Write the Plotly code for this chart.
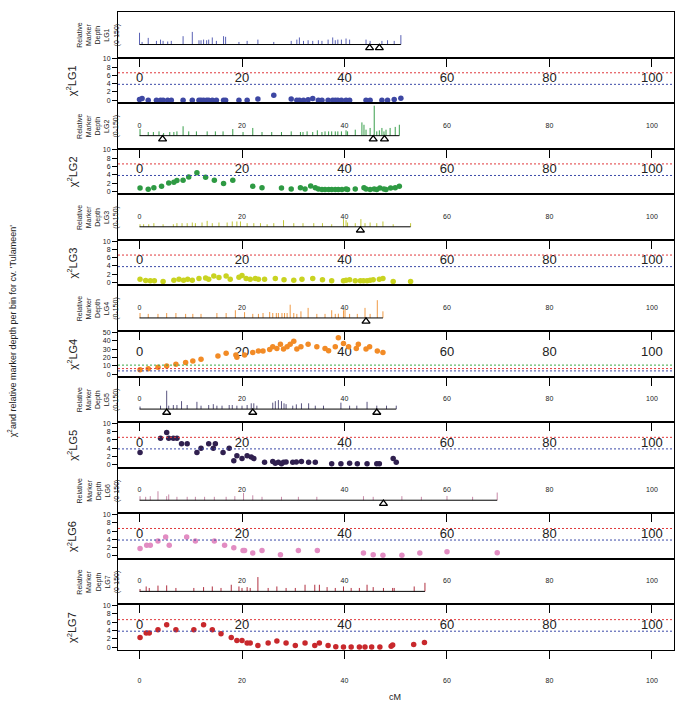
import plotly.graph_objects as go

# ---------------- data ----------------
lg_names = ["LG1", "LG2", "LG3", "LG4", "LG5", "LG6", "LG7"]
lg_length = [51.0, 50.7, 52.9, 47.5, 50.1, 69.8, 55.7]

lg1_bin_cm = [0, 0.5, 1.7, 3.3, 4.1, 4.6, 5.5, 6.2, 8.5, 10.3, 11.6, 12.0, 12.5, 13.1, 13.5, 14.2, 15.0, 16.4, 16.8,
              19.4, 21.0, 23.1, 26.2, 29.6, 30.7, 31.2, 32.0, 32.9, 33.8, 34.9, 35.6, 36.8, 37.7, 38.2, 38.7, 39.4,
              40.3, 41.0, 44.2, 45.0, 47.3, 48.4, 49.7, 51.0]
lg1_depth = [55, 12, 31, 17, 23, 17, 14, 17, 39, 59, 20, 20, 23, 20, 23, 33, 17, 39, 36, 12, 17, 23, 12, 17, 23, 33,
             17, 20, 17, 20, 17, 23, 33, 20, 23, 23, 28, 23, 23, 17, 17, 20, 17, 44]
lg1_tri_cm = [44.9, 46.8]
lg1_chi_cm = lg1_bin_cm
lg1_chi = [0.2, 0.4, 0, 0, 0, 0, 0, 0, 0, 0, 0, 0, 0, 0, 0, 0, 0, 0, 0, 0, 0, 0.3, 1.2, 0.3, 0, 0, 0, 0.1, 0.4,
           0, 0, 0, 0, 0, 0, 0, 0, 0, 0, 0, 0, 0, 0.2, 0.5]

lg2_bin_cm = [0.1, 1.7, 2.7, 3.8, 4.7, 5.9, 6.7, 7.3, 8.5, 9.6, 11.1, 13.2, 14.8, 16.3, 18.2, 20.2, 22.1, 23.9, 25.8,
              27.7, 29.6, 31.4, 31.9, 32.7, 33.8, 34.7, 35.6, 36.2, 36.9, 37.5, 38.2, 38.7, 39.4, 40.3, 40.6, 42.1,
              43.4, 43.8, 44.2, 45.0, 45.8, 46.3, 46.8, 47.3, 47.7, 48.1, 48.9, 49.9, 50.7]
lg2_depth = [31, 17, 17, 20, 12, 17, 17, 20, 44, 20, 20, 20, 20, 20, 31, 17, 36, 17, 17, 17, 20, 17, 17, 20, 17, 25,
             17, 20, 20, 20, 20, 20, 20, 25, 20, 28, 62, 51, 28, 36, 140, 20, 25, 36, 20, 28, 36, 41, 51]
lg2_tri_cm = [4.5, 45.6, 47.8]
lg2_chi_cm = [0.1, 1.7, 2.8, 4.3, 5.7, 6.7, 7.3, 8.5, 9.6, 11.2, 12.9, 14.6, 16.4, 18.2, 22.1, 23.9, 27.7, 29.6,
              31.4, 32.3, 33.4, 34.3, 34.9, 35.6, 36.2, 36.9, 37.5, 38.2, 38.8, 39.5, 40.3, 40.6, 42.1, 43.8, 44.2,
              45.0, 45.8, 46.3, 46.9, 47.7, 48.1, 49.0, 49.9, 50.7]
lg2_chi = [0.8, 0.5, 0.9, 1.25, 2.0, 2.2, 2.6, 2.7, 3.5, 4.5, 3.4, 2.7, 1.9, 2.7, 1.25, 0.9, 0.8, 0.55, 0.9, 0.6,
           1.3, 0.9, 0.6, 0.45, 0.45, 0.45, 0.45, 0.45, 0.45, 0.45, 0.6, 0.45, 0.55, 0.9, 0.6, 0.45, 0.6, 0.45, 0.8,
           0.6, 0.45, 0.8, 0.9, 1.25]

lg3_bin_cm = [0.1, 0.8, 1.8, 2.8, 4.6, 6.6, 7.3, 8.3, 9.3, 10.3, 10.9, 12.2, 13.2, 14.2, 15.5, 17.1, 18.1, 19.0,
              19.7, 21.0, 22.3, 23.6, 24.9, 26.2, 28.1, 30.1, 31.9, 34.0, 35.7, 37.5, 39.8, 40.3, 40.6, 42.1, 43.2,
              44.0, 45.0, 46.3, 47.5, 49.5, 52.9]
lg3_depth = [12, 12, 12, 17, 12, 12, 17, 17, 17, 20, 17, 20, 28, 17, 20, 20, 25, 25, 25, 17, 17, 17, 12, 17, 31, 17,
             17, 17, 17, 12, 36, 31, 20, 17, 36, 17, 20, 17, 25, 12, 17]
lg3_tri_cm = [43.1]
lg3_chi_cm = [0.1, 1.2, 2.1, 2.9, 4.6, 6.7, 7.7, 8.6, 9.4, 10.3, 11.6, 12.9, 13.5, 14.5, 15.5, 16.9, 17.7, 19.4,
              20.0, 20.8, 21.6, 22.6, 23.2, 24.4, 26.5, 28.2, 30.1, 31.7, 33.8, 35.7, 37.5, 39.8, 40.3, 41.0, 42.1,
              43.1, 43.7, 44.4, 45.0, 45.6, 46.8, 47.5, 49.5, 52.9]
lg3_chi = [0.8, 0.5, 0.4, 0.4, 0.25, 0.55, 0.8, 0.55, 0.8, 0.55, 0.95, 1.1, 0.8, 1.6, 1.2, 1.6, 0.8, 1.3, 1.7, 0.95,
           0.8, 0.95, 0.8, 0.8, 0.95, 0.7, 0.55, 0.8, 0.95, 0.7, 0.4, 0.4, 0.55, 0.7, 0.4, 0.4, 0.4, 0.4, 0.55, 0.7,
           0.8, 0.95, 0.25, 0.25]

lg4_bin_cm = [0.1, 1.7, 3.6, 5.3, 7.1, 9.0, 10.4, 12.0, 15.1, 16.9, 18.7, 20.5, 22.1, 23.2, 24.1, 25.4, 26.0, 26.7,
              27.1, 27.8, 28.3, 28.8, 29.4, 30.1, 30.7, 31.5, 32.9, 34.6, 36.2, 37.5, 38.2, 38.8, 39.8, 40.1, 41.0,
              42.5, 44.0, 45.0, 46.4, 47.5]
lg4_depth = [23, 19, 19, 23, 23, 19, 19, 19, 23, 23, 36, 27, 19, 19, 23, 28, 23, 23, 23, 23, 23, 23, 62, 23, 19, 31,
             47, 19, 19, 36, 19, 20, 36, 42, 19, 19, 47, 19, 83, 31]
lg4_tri_cm = [44.2]
lg4_chi_cm = [0.1, 1.7, 3.6, 5.3, 7.1, 9.0, 10.4, 12.0, 15.3, 16.9, 18.8, 19.0, 20.5, 22.1, 23.2, 24.1, 25.4, 26.0,
              26.8, 27.5, 28.1, 28.8, 29.4, 30.1, 30.7, 31.5, 32.9, 34.6, 36.2, 36.9, 38.2, 38.8, 39.8, 40.8, 42.3,
              42.7, 44.2, 44.9, 46.4, 47.5]
lg4_chi = [5.2, 6.3, 8.3, 9.9, 11.9, 13.9, 15.9, 17.9, 21.8, 25, 23, 20.2, 23, 26.2, 27.8, 27.8, 29.8, 32.9, 31,
           36.1, 30.2, 32.9, 36.1, 39.7, 30.2, 32.9, 36.1, 32.9, 31, 28.2, 32.9, 44, 36.9, 32.9, 31, 36.1, 30.2,
           32.9, 27.8, 26.2]

lg5_bin_cm = [0.1, 4.1, 5.3, 5.7, 6.6, 7.3, 8.2, 9.3, 11.2, 12.0, 13.5, 14.4, 15.1, 16.1, 17.5, 18.1, 19.0, 20.0,
              21.0, 21.8, 22.3, 22.9, 26.0, 26.5, 27.1, 27.7, 28.2, 28.6, 29.9, 30.6, 31.6, 33.0, 34.3, 35.9, 39.3,
              41.0, 42.4, 44.4, 46.3, 48.2, 50.1]
lg5_depth = [12, 16, 86, 16, 19, 19, 37, 19, 34, 16, 19, 23, 16, 16, 19, 19, 16, 16, 19, 27, 27, 16, 30, 37, 42, 37,
             27, 23, 16, 22, 27, 27, 16, 16, 30, 16, 16, 34, 16, 16, 16]
lg5_tri_cm = [5.3, 22.1, 46.3]
lg5_chi_cm = [0.1, 4.1, 5.3, 5.7, 6.6, 7.3, 8.2, 9.3, 11.2, 12.0, 13.5, 14.4, 14.8, 16.3, 17.5, 18.4, 19.0, 20.0,
              21.0, 21.8, 22.3, 24.4, 26.0, 26.5, 27.1, 27.7, 28.1, 28.6, 29.9, 30.6, 31.6, 33.0, 34.3, 37.5, 39.3,
              41.0, 42.5, 44.4, 46.3, 46.8, 49.5, 50.1]
lg5_chi = [3.0, 6.4, 7.8, 6.4, 6.4, 6.4, 5.1, 5.1, 3.0, 4.0, 5.1, 4.0, 5.1, 3.0, 4.0, 1.0, 2.2, 1.5, 2.2, 1.9, 1.5,
           0.6, 0.8, 0.4, 0.6, 0.25, 0.6, 0.7, 0.6, 0.7, 0.8, 0.6, 0.6, 0.25, 0.25, 0.4, 0.25, 0.25, 0.25, 0.25,
           1.5, 0.6]

lg6_bin_cm = [0.1, 1.2, 2.1, 3.6, 5.3, 5.7, 7.3, 9.3, 10.9, 12.7, 14.6, 16.9, 18.6, 20.3, 22.1, 23.9, 27.7, 31.0,
              34.6, 43.7, 45.6, 51.2, 55.0, 60.0, 65.0, 69.8]
lg6_depth = [19, 16, 19, 42, 19, 27, 16, 16, 16, 16, 16, 16, 19, 34, 23, 16, 16, 16, 16, 19, 16, 19, 16, 20, 16, 36]
lg6_tri_cm = [47.6]
lg6_chi_cm = [0.1, 1.4, 2.1, 3.6, 5.1, 5.8, 9.2, 10.9, 14.6, 16.6, 18.4, 20.2, 20.5, 22.1, 23.9, 27.5, 31.0, 34.7,
              43.7, 45.6, 47.5, 51.2, 54.7, 60.0, 69.8]
lg6_chi = [1.8, 2.6, 2.6, 3.6, 4.6, 2.6, 4.6, 3.6, 3.6, 2.6, 2.0, 1.3, 1.3, 0.7, 1.3, 0.3, 1.3, 1.3, 0.7, 0.3, 0.2,
           0.2, 0.7, 1.0, 0.8]

lg7_bin_cm = [0.1, 1.3, 1.9, 3.6, 5.3, 7.1, 10.6, 12.5, 14.2, 15.9, 17.9, 19.4, 20.0, 21.0, 21.6, 23.1, 25.1, 26.8,
              28.6, 30.4, 32.3, 34.2, 35.1, 36.6, 38.2, 39.8, 41.3, 42.9, 44.4, 45.6, 47.6, 49.4, 49.7, 53.6, 55.7]
lg7_depth = [11, 23, 16, 27, 28, 16, 16, 20, 23, 16, 31, 23, 16, 20, 16, 67, 16, 23, 16, 16, 31, 31, 31, 20, 16, 23,
             16, 16, 31, 20, 16, 16, 16, 23, 40]
lg7_tri_cm = []
lg7_chi_cm = [0.1, 1.3, 1.9, 3.6, 5.3, 7.1, 10.6, 12.5, 14.2, 15.9, 17.9, 19.0, 20.0, 21.0, 21.6, 23.1, 25.1, 26.8,
              28.6, 30.4, 32.3, 34.2, 35.1, 36.8, 38.3, 39.8, 41.3, 42.9, 44.0, 45.3, 46.9, 49.1, 49.4, 53.5, 55.6]
lg7_chi = [2.3, 3.4, 3.4, 4.2, 5.4, 4.2, 4.2, 5.4, 4.2, 3.2, 2.3, 1.6, 1.6, 1.0, 1.0, 0.4, 1.0, 1.5, 1.0, 0.4, 1.0,
           0.4, 1.0, 0.4, 0.1, 0, 0, 0, 0, 0, 0, 0.2, 0.5, 0.6, 1.1]

thresholds = [3.84, 6.63]          # chi-square critical values (p=0.05, 0.01)
threshold_extra = 10.83            # p=0.001, shown on LG4
x_ticks = [0, 20, 40, 60, 80, 100]
chi_ticks = [0, 2, 4, 6, 8, 10]
chi_ticks_lg4 = [0, 10, 20, 30, 40, 50]

bins = [lg1_bin_cm, lg2_bin_cm, lg3_bin_cm, lg4_bin_cm, lg5_bin_cm, lg6_bin_cm, lg7_bin_cm]
depths = [lg1_depth, lg2_depth, lg3_depth, lg4_depth, lg5_depth, lg6_depth, lg7_depth]
tris = [lg1_tri_cm, lg2_tri_cm, lg3_tri_cm, lg4_tri_cm, lg5_tri_cm, lg6_tri_cm, lg7_tri_cm]
chi_cms = [lg1_chi_cm, lg2_chi_cm, lg3_chi_cm, lg4_chi_cm, lg5_chi_cm, lg6_chi_cm, lg7_chi_cm]
chis = [lg1_chi, lg2_chi, lg3_chi, lg4_chi, lg5_chi, lg6_chi, lg7_chi]

pt_colors = ["#3d47a3", "#2e9a43", "#c9d321", "#f28b26", "#30204f", "#e28cc2", "#c8282c"]
bar_colors = ["#5a62b5", "#3a9f4c", "#c3c83a", "#f09a45", "#5a5580", "#c88aa8", "#b03040"]

FONT = "Liberation Sans, Arial, sans-serif"
N = 14
XR = [-4.2, 104.3]

fig = go.Figure()


def ax(n, kind):
    return ("x" if n == 1 else f"x{n}") if kind == "x" else ("y" if n == 1 else f"y{n}")


for i, lg in enumerate(lg_names):
    nd = 2 * i + 1   # depth panel axis number
    nc = 2 * i + 2   # chi panel axis number
    xs, ys = [], []
    for p, v in zip(bins[i], depths[i]):
        xs += [p, p, None]
        ys += [0, v, None]
    fig.add_trace(go.Scatter(x=xs, y=ys, mode="lines", line=dict(color=bar_colors[i], width=1),
                             xaxis=ax(nd, "x"), yaxis=ax(nd, "y"), showlegend=False, hoverinfo="skip"))
    fig.add_trace(go.Scatter(x=[0, lg_length[i]], y=[0, 0], mode="lines", line=dict(color="black", width=1),
                             xaxis=ax(nd, "x"), yaxis=ax(nd, "y"), showlegend=False, hoverinfo="skip"))
    if tris[i]:
        fig.add_trace(go.Scatter(x=tris[i], y=[-16] * len(tris[i]), mode="markers",
                                 marker=dict(symbol="triangle-up-open", size=7, color="black",
                                             line=dict(width=1.3, color="black")),
                                 xaxis=ax(nd, "x"), yaxis=ax(nd, "y"), showlegend=False, hoverinfo="skip"))
    fig.add_trace(go.Scatter(x=chi_cms[i], y=chis[i], mode="markers",
                             marker=dict(size=5.5, color=pt_colors[i]),
                             xaxis=ax(nc, "x"), yaxis=ax(nc, "y"), showlegend=False))

layout = dict(width=685, height=708, margin=dict(l=118, r=11, t=12, b=58),
              paper_bgcolor="white", plot_bgcolor="rgba(0,0,0,0)",
              font=dict(family=FONT, color="#222"), showlegend=False)

shapes = []
annotations = []
for k in range(N):
    n = k + 1
    top = 1 - k / N
    bot = 1 - (k + 1) / N
    xname = "xaxis" if n == 1 else f"xaxis{n}"
    yname = "yaxis" if n == 1 else f"yaxis{n}"
    i = k // 2
    is_depth = (k % 2 == 0)
    xa = dict(domain=[0, 1], anchor=ax(n, "y"), range=XR, showgrid=False, zeroline=False, automargin=False,
              showline=True, mirror=True, linecolor="black", linewidth=1,
              tickmode="array", tickvals=x_ticks, ticks="outside", ticklen=8, tickwidth=1)
    if n != 1:
        xa["matches"] = "x"
    if is_depth:
        xa.update(tickcolor="black", tickfont=dict(size=13, family=FONT, color="#222"), ticklabelstandoff=0)
    else:
        tc = "black" if (k == 7 or k == 13) else "rgba(0,0,0,0)"
        xa.update(tickcolor=tc, tickfont=dict(size=7, family=FONT, color="#222"),
                  ticklabelstandoff=16 if k == 13 else 7)
    layout[xname] = xa
    ya = dict(domain=[bot, top], anchor=ax(n, "x"), showgrid=False, zeroline=False, automargin=False,
              showline=True, mirror=True, linecolor="black", linewidth=1)
    if is_depth:
        ya.update(range=[-61, 152], showticklabels=False, ticks="")
        annotations.append(dict(text=f"Relative<br>Marker<br>Depth<br>{lg_names[i]}<br>(0-150)",
                                xref="paper", yref="paper", x=-0.036, y=(top + bot) / 2,
                                xanchor="center", yanchor="middle", textangle=-90, showarrow=False,
                                font=dict(size=7, family=FONT, color="#222")))
    else:
        tv = chi_ticks_lg4 if i == 3 else chi_ticks
        ya.update(range=[-3, 52] if i == 3 else [-0.7, 10.3], tickmode="array", tickvals=tv,
                  ticks="outside", ticklen=5, tickcolor="black",
                  tickfont=dict(size=7, family=FONT, color="#222"))
        annotations.append(dict(text=f"χ<sup>2</sup>{lg_names[i]}", xref="paper", yref="paper",
                                x=-0.083, y=(top + bot) / 2, xanchor="center", yanchor="middle",
                                textangle=-90, showarrow=False, font=dict(size=11, family=FONT, color="#222")))
        xd = "x domain" if n == 1 else f"x{n} domain"
        lines = [(thresholds[0], "#3b49a8"), (thresholds[1], "#e0393c")]
        if i == 3:
            lines.append((threshold_extra, "#3aa845"))
        for val, col in lines:
            shapes.append(dict(type="line", xref=xd, yref=ax(n, "y"), x0=0, x1=1, y0=val, y1=val,
                               line=dict(color=col, width=1, dash="2px,2px")))
    layout[yname] = ya

annotations.append(dict(text="χ<sup>2</sup>and relative marker depth per bin for cv. 'Tulameen'",
                        xref="paper", yref="paper", x=-0.19, y=0.5, xanchor="center", yanchor="middle",
                        textangle=-90, showarrow=False, font=dict(size=9, family=FONT, color="#222")))
annotations.append(dict(text="cM", xref="paper", yref="paper", x=0.498, y=-0.074, xanchor="center",
                        yanchor="middle", showarrow=False, font=dict(size=9, family=FONT, color="#222")))

layout["shapes"] = shapes
layout["annotations"] = annotations
fig.update_layout(**layout)
fig.write_html("out.html", config={"displayModeBar": False},
               post_script="document.body.style.margin='0';document.body.style.padding='0';"
                           "document.documentElement.style.overflow='hidden';")
